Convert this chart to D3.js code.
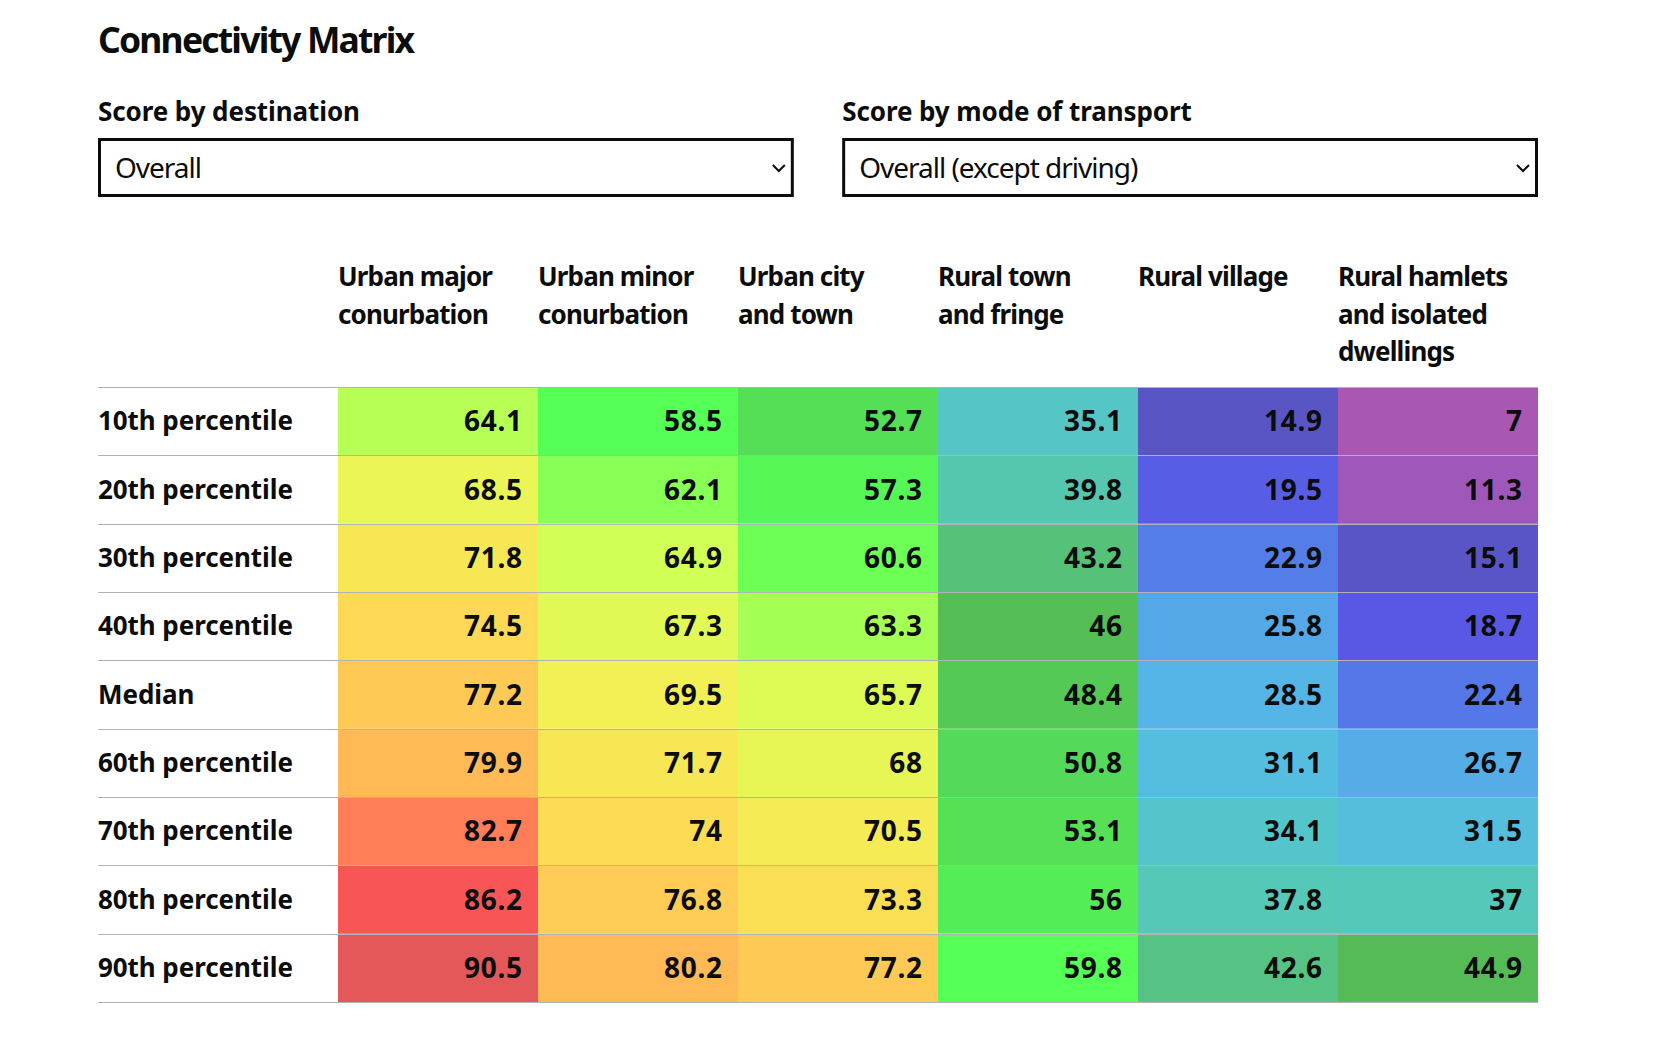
<!DOCTYPE html>
<html><head><meta charset="utf-8">
<script src="https://cdn.jsdelivr.net/npm/d3@7"></script>
<style>html,body{margin:0;padding:0;background:#fff;} svg{display:block}</style>
</head><body><svg id="c" width="1660" height="1039"></svg>
<script>
// ---------- data ----------
const title = "Connectivity Matrix";
const selectLabels = ["Score by destination", "Score by mode of transport"];
const selectValues = ["Overall", "Overall (except driving)"];
const categoryLines = [
  ["Urban major", "conurbation"],
  ["Urban minor", "conurbation"],
  ["Urban city", "and town"],
  ["Rural town", "and fringe"],
  ["Rural village"],
  ["Rural hamlets", "and isolated", "dwellings"]
];
const categories = categoryLines.map(l => l.join(" "));
const rows = ["10th percentile", "20th percentile", "30th percentile", "40th percentile", "Median",
              "60th percentile", "70th percentile", "80th percentile", "90th percentile"];
const urbanMajor   = [64.1, 68.5, 71.8, 74.5, 77.2, 79.9, 82.7, 86.2, 90.5];
const urbanMinor   = [58.5, 62.1, 64.9, 67.3, 69.5, 71.7, 74, 76.8, 80.2];
const urbanCity    = [52.7, 57.3, 60.6, 63.3, 65.7, 68, 70.5, 73.3, 77.2];
const ruralTown    = [35.1, 39.8, 43.2, 46, 48.4, 50.8, 53.1, 56, 59.8];
const ruralVillage = [14.9, 19.5, 22.9, 25.8, 28.5, 31.1, 34.1, 37.8, 42.6];
const ruralHamlets = [7, 11.3, 15.1, 18.7, 22.4, 26.7, 31.5, 37, 44.9];
const series = [urbanMajor, urbanMinor, urbanCity, ruralTown, ruralVillage, ruralHamlets];

// colour scale stops (score -> colour)
const colorStops = [7, 11.3, 14.9, 19, 22.6, 25.8, 28.5, 31.3, 34.6, 37.5, 39.8, 43, 45, 46, 48.4, 50.8, 53, 56, 58.5, 59.8,
                    60.6, 62.1, 63.3, 64.1, 64.9, 65.7, 67.3, 68.5, 69.5, 71.7, 74, 76.8, 77.2, 79.9, 80.2, 82.7, 86.2, 90.5];
const colorRange = ["#a857b3", "#a057ba", "#5a55c4", "#5858e6", "#5579e7", "#55a8e7", "#55b5e6", "#55bede", "#55c6c9", "#55c8b9",
                    "#55c7af", "#55c27d", "#55bb55", "#55be55", "#55c955", "#55d95a", "#55e055", "#55ed55", "#55ff55", "#55ff55",
                    "#6eff55", "#88ff55", "#a5ff55", "#b8ff55", "#d2ff55", "#dcfc55", "#e1f855", "#ebf555", "#f3f055", "#f7e755",
                    "#fcdc55", "#ffcd55", "#fec955", "#ffba55", "#ffb955", "#ff7d57", "#f85556", "#e55859"];

// ---------- drawing ----------
const svg = d3.select("#c");
const ink = "#0b0c0c";
const FONT = "'Noto Sans', Lato, sans-serif";
svg.append("rect").attr("width", 1660).attr("height", 1039).attr("fill", "#fff");

function fit(sel, ref, target) {
  // derive per-class letter spacing so the reference string hits the target width
  const t = svg.append("text").attr("font-family", sel.attr("font-family"))
    .attr("font-size", sel.attr("font-size")).attr("font-weight", sel.attr("font-weight")).text(ref);
  const w = t.node().getComputedTextLength();
  t.remove();
  const ls = Math.max(-2.5, Math.min(2.5, (target - w) / Math.max(1, ref.length - 1)));
  sel.selectAll("text").style("letter-spacing", ls + "px");
  return ls;
}

const color = d3.scaleLinear().domain(colorStops).range(colorRange).interpolate(d3.interpolateRgb);
const x = d3.scaleBand().domain(categories).range([338, 1538]);
const y = d3.scaleBand().domain(rows).range([387, 1002]);
const tableLeft = 98, tableRight = 1538;

// title
const gT = svg.append("g").attr("font-family", FONT).attr("font-size", 35.5).attr("font-weight", 700).attr("fill", ink);
gT.append("text").attr("x", tableLeft).attr("y", 53).text(title);
fit(gT, title, 317);

// selects
const selX = d3.scaleBand().domain(selectLabels).range([98, 1538]).paddingInner(0.065);
const gL = svg.append("g").attr("font-family", FONT).attr("font-size", 26).attr("font-weight", 700).attr("fill", ink);
gL.selectAll("text").data(selectLabels).join("text")
  .attr("x", d => selX(d)).attr("y", 121).text(d => d);
fit(gL, selectLabels[0], 262);

const gS = svg.append("g");
gS.selectAll("rect").data(selectLabels).join("rect")
  .attr("x", d => selX(d) + 1.5).attr("y", 139.5).attr("width", selX.bandwidth() - 3).attr("height", 56)
  .attr("fill", "#fff").attr("stroke", ink).attr("stroke-width", 3);
gS.selectAll("path").data(selectLabels).join("path")
  .attr("d", d => { const cx = selX(d) + selX.bandwidth() - 15, cy = 168; return `M${cx-6},${cy-3}L${cx},${cy+3}L${cx+6},${cy-3}`; })
  .attr("fill", "none").attr("stroke", ink).attr("stroke-width", 2);
const gV = svg.append("g").attr("font-family", FONT).attr("font-size", 28).attr("font-weight", 400).attr("fill", ink);
gV.selectAll("text").data(selectLabels).join("text")
  .attr("x", d => selX(d) + 17).attr("y", 178).text((d, i) => selectValues[i]);
fit(gV, selectValues[0], 87);

// header
const gH = svg.append("g").attr("font-family", FONT).attr("font-size", 26).attr("font-weight", 700).attr("fill", ink);
const hdr = gH.selectAll("text").data(categories).join("text").attr("x", d => x(d)).attr("y", 286);
hdr.selectAll("tspan").data((d, i) => categoryLines[i]).join("tspan")
  .attr("x", function () { return d3.select(this.parentNode).attr("x"); })
  .attr("dy", (d, i) => i === 0 ? 0 : 37.5).text(d => d);
fit(gH, "Urban major", 155);

// cells
const gC = svg.append("g");
series.forEach((vals, j) => {
  gC.append("g").selectAll("rect").data(vals).join("rect")
    .attr("x", x(categories[j])).attr("y", (d, i) => y(rows[i]))
    .attr("width", x.bandwidth()).attr("height", y.bandwidth())
    .attr("fill", d => color(d));
});

// row lines
const lineYs = rows.map(r => y(r)).concat([y.range()[1]]);
svg.append("g").selectAll("line").data(lineYs).join("line")
  .attr("x1", tableLeft).attr("x2", tableRight)
  .attr("y1", d => Math.round(d) + 0.5).attr("y2", d => Math.round(d) + 0.5)
  .attr("stroke", "#b1b4b6").attr("stroke-width", 1);

// row labels
const gR = svg.append("g").attr("font-family", FONT).attr("font-size", 26).attr("font-weight", 700).attr("fill", ink);
gR.selectAll("text").data(rows).join("text")
  .attr("x", tableLeft).attr("y", d => y(d) + y.bandwidth() / 2 + 9).text(d => d);
fit(gR, rows[0], 195);

// values
const gN = svg.append("g").attr("font-family", FONT).attr("font-size", 28).attr("font-weight", 700).attr("fill", ink)
  .attr("text-anchor", "end");
series.forEach((vals, j) => {
  gN.append("g").selectAll("text").data(vals).join("text")
    .attr("class", "v").attr("data-col", j)
    .attr("y", (d, i) => y(rows[i]) + y.bandwidth() / 2 + 10)
    .text(d => d);
});
const vls = fit(gN, "64.1", 58);
gN.selectAll("text.v").attr("x", function () {
  const j = +this.getAttribute("data-col");
  return x(categories[j]) + x.bandwidth() - 16 + vls;
});
</script></body></html>
